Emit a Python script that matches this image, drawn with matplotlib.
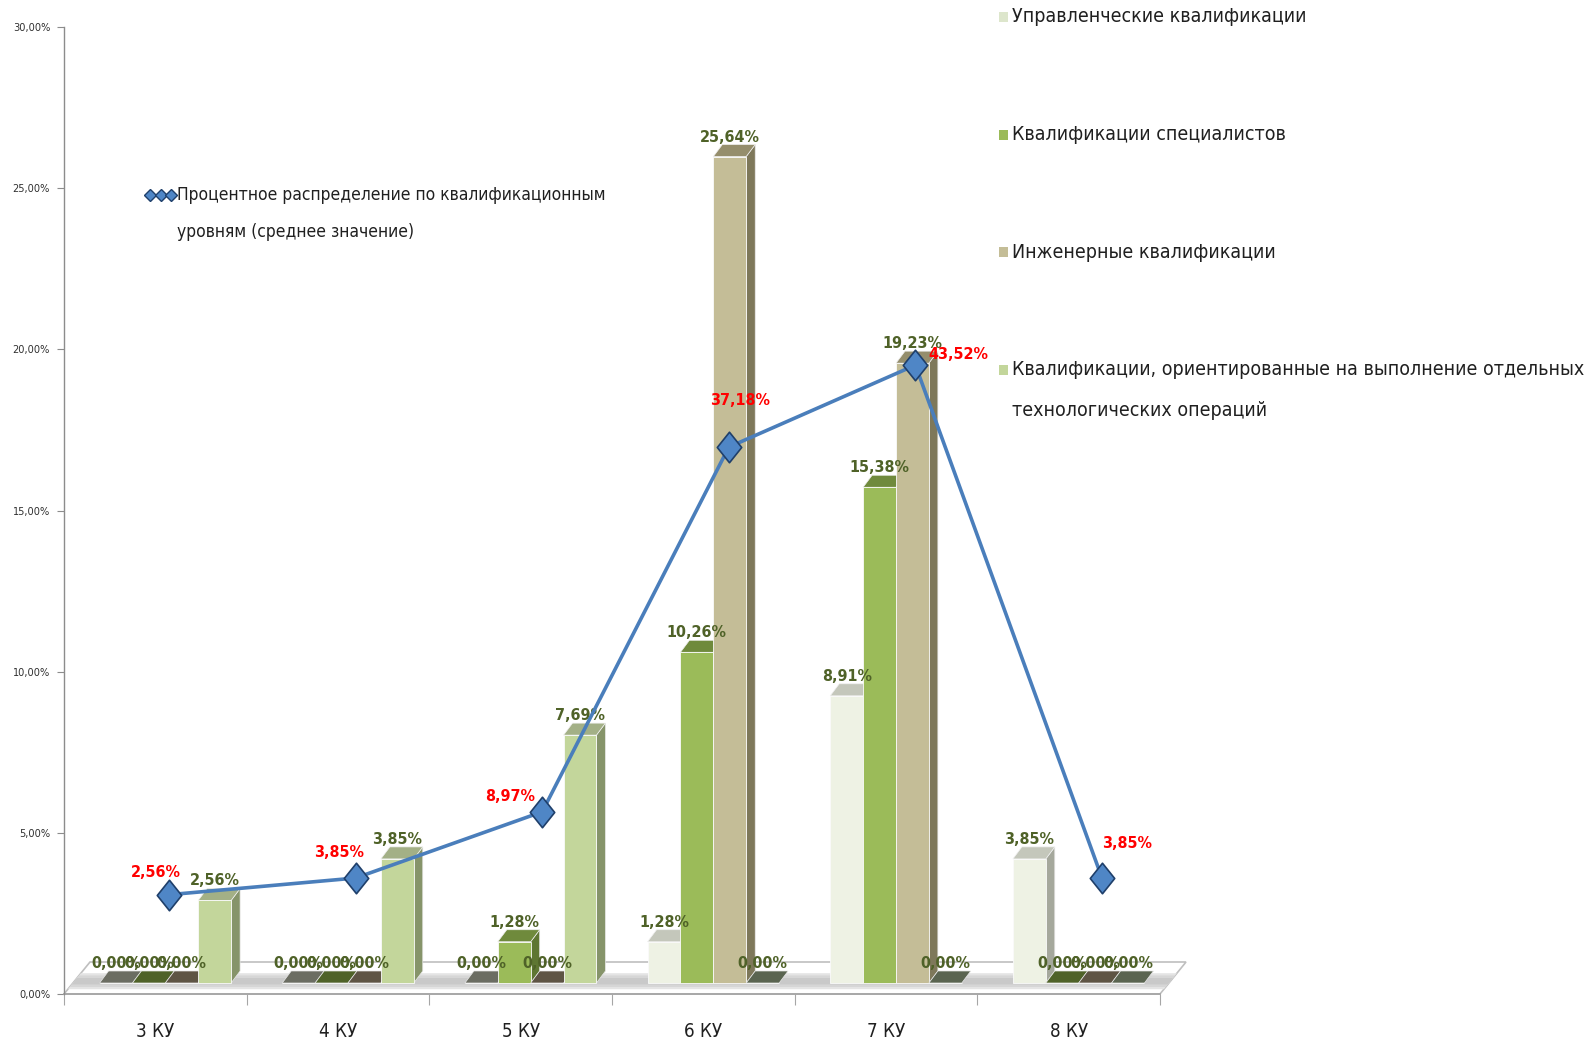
import numpy as np
import matplotlib
matplotlib.use('Agg')
import matplotlib.pyplot as plt
from matplotlib.patches import Polygon, Rectangle
from matplotlib.lines import Line2D
from matplotlib.path import Path
from matplotlib.transforms import offset_copy

FONT = ['Liberation Sans Narrow', 'DejaVu Sans']
plt.rcParams['font.family'] = FONT
plt.rcParams['font.stretch'] = 'condensed'

# ── Data ───────────────────────────────────────────────────────────
categories = ['3 КУ', '4 КУ', '5 КУ', '6 КУ', '7 КУ', '8 КУ']
series_names = [
    'Управленческие квалификации',
    'Квалификации специалистов',
    'Инженерные квалификации',
    'Квалификации, ориентированные на выполнение отдельных\nтехнологических операций',
]
mgmt = [0.00, 0.00, 0.00, 1.28, 8.91, 3.85]
spec = [0.00, 0.00, 1.28, 10.26, 15.38, 0.00]
eng = [0.00, 0.00, 0.00, 25.64, 19.23, 0.00]
oper = [2.56, 3.85, 7.69, 0.00, 0.00, 0.00]
avg_share = [2.56, 3.85, 8.97, 37.18, 43.52, 3.85]
line_name = 'Процентное распределение по квалификационным\nуровням (среднее значение)'
y_ticks = [0, 5, 10, 15, 20, 25, 30]

# ── Styles ─────────────────────────────────────────────────────────
FRONT = ['#EEF2E4', '#9BBB59', '#C4BD97', '#C3D69B']
TOP   = ['#C4C7BB', '#6F8A3C', '#958E6C', '#A3B086']
SIDE  = ['#A5A89C', '#5E7632', '#7E785A', '#86946A']
ZERO  = ['#6B6D62', '#4F6228', '#5E5444', '#5A6450']
SWATCH = ['#DDE6CC', '#9BBB59', '#C4BD97', '#C3D69B']
LABEL_GREEN = '#4F6228'
LINE_BLUE = '#4A7EBB'
RED = '#FF0000'

# pixel offsets of the line labels relative to the markers
line_label_offsets = [(-13, 22), (-17, 26), (-32, 15), (11, 47), (43, 11), (25, 35)]

W, H = 1590, 1041
def rect(l, t, r, b):
    return [l / W, 1 - b / H, (r - l) / W, (b - t) / H]

fig = plt.figure(figsize=(W / 100, H / 100), dpi=100)
fig.patch.set_facecolor('white')

# ── Main (bar) axes ────────────────────────────────────────────────
ax = fig.add_axes(rect(64, 27, 1160, 994))
ax.set_xlim(-0.5, 5.5)
ax.set_ylim(0, 30)
ax.patch.set_alpha(0)
for s in ['top', 'right', 'bottom']:
    ax.spines[s].set_visible(False)
ax.spines['left'].set_color('#8C8C8C')
ax.spines['left'].set_linewidth(1.0)

ax.set_yticks(y_ticks)
ax.set_yticklabels([f'{v:.2f}%'.replace('.', ',') for v in y_ticks])
ax.tick_params(axis='y', direction='out', length=5, color='#8C8C8C',
               labelsize=7.8, labelcolor='#303030', pad=5)
ax.set_xticks(np.arange(-0.5, 6, 1.0))
ax.set_xticklabels([])
ax.set_xticks(np.arange(len(categories)), minor=True)
ax.set_xticklabels(categories, minor=True, fontsize=13.5, color='#202020')
ax.tick_params(axis='x', which='major', direction='out', length=8, color='#A6A6A6')
ax.tick_params(axis='x', which='minor', length=0, pad=20)

px_x = 1096 / 6.0     # pixels per category
px_y = 967 / 30.0     # pixels per percent

# floor
FDX, FDY = 26 / px_x, 32 / px_y
floor = Polygon([(-0.5, 0), (5.5, 0), (5.5 + FDX, FDY), (-0.5 + FDX, FDY)],
                closed=True, facecolor='white', edgecolor='#BFBFBF', lw=1.2,
                clip_on=False, zorder=1)
ax.add_patch(floor)
# soft shadow band on the floor (stacked strips, darker in the middle)
for f0, f1, c in [(0.15, 0.65, '#E4E4E4'), (0.22, 0.58, '#D6D6D6'), (0.3, 0.5, '#C9C9C9')]:
    ax.add_patch(Polygon([(-0.5 + f0 * FDX, f0 * FDY), (5.5 + f0 * FDX, f0 * FDY),
                          (5.5 + f1 * FDX, f1 * FDY), (-0.5 + f1 * FDX, f1 * FDY)],
                         closed=True, facecolor=c, edgecolor='none',
                         clip_on=False, zorder=1.5))
ax.plot([-0.5, 5.5], [0, 0], color='#A6A6A6', lw=1.3, clip_on=False, zorder=1.6)

# bars (placed at mid-depth of the floor)
bar_trans = offset_copy(ax.transData, fig=fig, x=10, y=11, units='dots')
BW = 0.18
DX, DY = 9 / px_x, 12 / px_y
series = [mgmt, spec, eng, oper]
x = np.arange(len(categories))
for j, vals in enumerate(series):
    xc = x + (j - 1.5) * BW
    for i, h in enumerate(vals):
        x0 = xc[i] - BW / 2
        if h > 0:
            ax.add_patch(Polygon([(x0 + BW, 0), (x0 + BW, h), (x0 + BW + DX, h + DY),
                                  (x0 + BW + DX, DY)], closed=True, facecolor=SIDE[j],
                                 edgecolor='#E8E8E8', lw=0.5, transform=bar_trans,
                                 clip_on=False, zorder=3 + j))
            ax.add_patch(Polygon([(x0, h), (x0 + BW, h), (x0 + BW + DX, h + DY),
                                  (x0 + DX, h + DY)], closed=True, facecolor=TOP[j],
                                 edgecolor='#F0F0F0', lw=0.5, transform=bar_trans,
                                 clip_on=False, zorder=3.5 + j))
        else:
            ax.add_patch(Polygon([(x0, 0), (x0 + BW, 0), (x0 + BW + DX, DY),
                                  (x0 + DX, DY)], closed=True, facecolor=ZERO[j],
                                 edgecolor='#E8E8E8', lw=0.5, transform=bar_trans,
                                 clip_on=False, zorder=3 + j))
    ax.bar(xc, vals, BW, color=FRONT[j], edgecolor='#FAFAFA', linewidth=0.6,
           transform=bar_trans, clip_on=False, zorder=3.5 + j)
    for i, h in enumerate(vals):
        ax.text(xc[i], h + DY, f'{h:.2f}%'.replace('.', ','), transform=bar_trans,
                ha='center', va='bottom', fontsize=11.5, fontweight='bold',
                color=LABEL_GREEN, zorder=20)

# ── Line on its own (hidden) scale ─────────────────────────────────
lx = fig.add_axes(rect(75.7, 27, 1195.3, 994))
lx.set_xlim(-0.5, 5.5)
lx.set_ylim(-5.12, 69.67)
lx.axis('off')
lx.patch.set_alpha(0)
diamond = Path([(0, 1), (0.8, 0), (0, -1), (-0.8, 0), (0, 1)],
               [Path.MOVETO, Path.LINETO, Path.LINETO, Path.LINETO, Path.CLOSEPOLY])
lx.plot(x, avg_share, color=LINE_BLUE, lw=2.6, marker=diamond, markersize=22,
        markerfacecolor='#4F86C6', markeredgecolor='#1F3F6A', markeredgewidth=1.2,
        zorder=5)
for i, v in enumerate(avg_share):
    lx.annotate(f'{v:.2f}%'.replace('.', ','), (x[i], v),
                xytext=line_label_offsets[i], textcoords='offset pixels',
                ha='center', va='center', fontsize=11.5, fontweight='bold',
                color=RED, zorder=10)

# ── Legends ────────────────────────────────────────────────────────
ly = 1 - 195 / H
fig.add_artist(Line2D([147 / W, 174 / W], [ly, ly], color=LINE_BLUE, lw=2,
                      transform=fig.transFigure))
fig.add_artist(Line2D([150 / W, 160.5 / W, 171 / W], [ly, ly, ly], lw=0,
                      marker='D', markersize=6, markerfacecolor='#4F86C6',
                      markeredgecolor='#1F3F6A', transform=fig.transFigure))
for k, part in enumerate(line_name.split('\n')):
    fig.text(177 / W, 1 - (195 + 37 * k) / H, part, ha='left', va='center',
             fontsize=12.5, color='#202020')

legend_rows = [17, 135, 252, 370]
for name, color, yy in zip(series_names, SWATCH, legend_rows):
    fig.add_artist(Rectangle((999 / W, 1 - (yy + 5) / H), 9 / W, 10 / H,
                             facecolor=color, edgecolor='none',
                             transform=fig.transFigure))
    for k, part in enumerate(name.split('\n')):
        fig.text(1012 / W, 1 - (yy + 41 * k) / H, part, ha='left', va='center',
                 fontsize=14, color='#202020')

fig.savefig('out.png', dpi=100, facecolor='white')
